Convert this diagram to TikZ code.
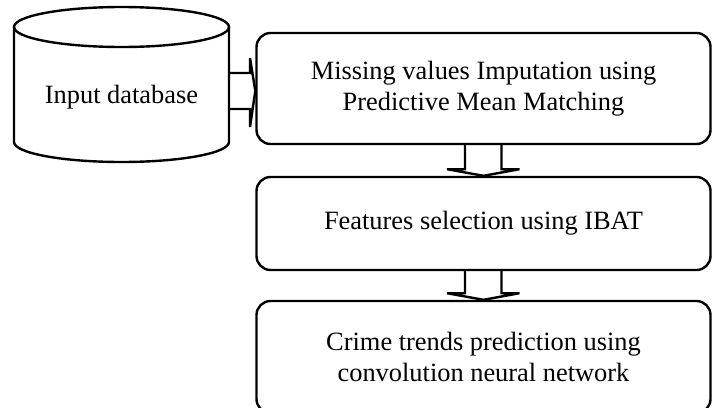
\documentclass[tikz,border=0pt]{standalone}
\usepackage{fontspec}
\setmainfont{Liberation Serif}
\usetikzlibrary{calc}

\begin{document}
\begin{tikzpicture}[line cap=round,line join=round,x=0.5pt,y=-0.5pt,
  stepbox/.style={draw,line width=1.2pt,rounded corners=7pt,minimum width=227pt,align=center,
    font=\fontsize{13.2}{15.5}\selectfont},
  blockarrow/.style={draw,line width=1.2pt,line join=miter}]
\useasboundingbox (0,0) rectangle (716,407);
%tietokanta
\draw[line width=1.2pt] (14,27) -- (14,142) arc[start angle=180,end angle=0,x radius=107.5,y radius=20] -- (229,27);
\draw[line width=1.2pt] (121.5,27) ellipse[x radius=107.5,y radius=20];
\node (db) at (121.5,97) {\fontsize{13.2}{15.5}\selectfont Input database};
\coordinate (dbE) at (229,91);
%laatikot
\node[stepbox,minimum height=55.5pt] (impute) at (483.5,88.5) {Missing values Imputation using\\Predictive Mean Matching};
\node[stepbox,minimum height=46.5pt] (select) at (483.5,223.5) {Features selection using IBAT};
\node[stepbox,minimum height=56pt] (predict) at (483.5,357) {Crime trends prediction using\\convolution neural network};
%nuolet
\draw[blockarrow] ($(dbE)+(0,-18)$) -- ++(21,0) -- ++(0,-15) -- (impute.west |- dbE) -- ($(dbE)+(21,36)$) -- ++(0,-18) -- ++(-21,0);
\draw[blockarrow] ($(impute.south)+(-18.5,0)$) -- ++(0,24) -- ++(-18,0) -- (select.north) -- ($(impute.south)+(36,24)$) -- ++(-18,0) -- ++(0,-24);
\draw[blockarrow] ($(select.south)+(-18.5,0)$) -- ++(0,22) -- ++(-18,0) -- (predict.north) -- ($(select.south)+(36,22)$) -- ++(-18,0) -- ++(0,-22);
\end{tikzpicture}
\end{document}
